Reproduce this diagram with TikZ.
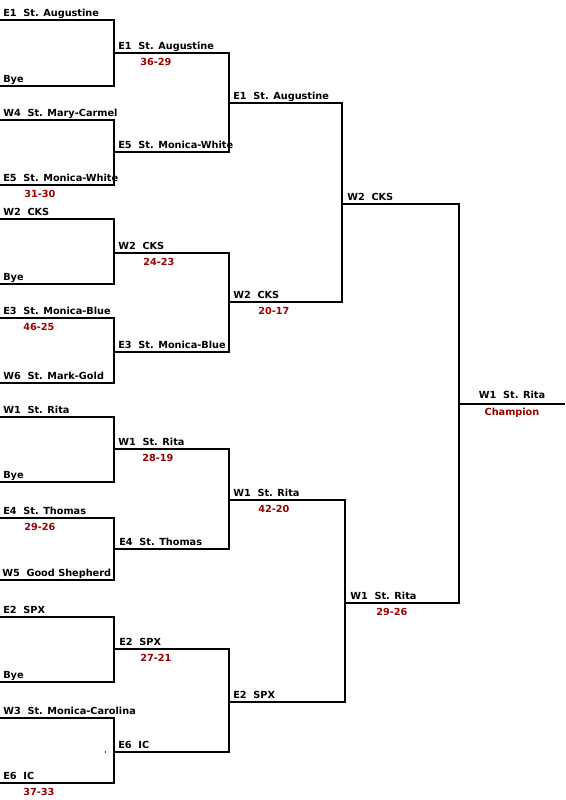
\documentclass[tikz,border=0pt]{standalone}
\usepackage{fontspec}
\newfontfamily\bracketfont{DejaVu Sans}
\definecolor{scorered}{RGB}{153,0,0}
\newcommand\seg[6]{%
  \coordinate (#1-l) at (#2,#4);
  \coordinate (#1-r) at (#3,#4);
  \node[team] (#1-t) at (#2+#6,#4-4) {#5};}
\begin{document}
\begin{tikzpicture}[x=0.75pt,y=-0.75pt,
  wire/.style={line width=1.5pt, line join=miter},
  team/.style={font=\bracketfont\bfseries\fontsize{7.3}{9}\selectfont, anchor=base west, inner sep=0pt},
  score/.style={team, text=scorered},
  finaltext/.style={team, anchor=base}]
\useasboundingbox (0,0) rectangle (565,800);
% round 1
\seg{a1}{0}{114}{20}{E1~~St. Augustine}{3}
\seg{a2}{0}{114}{86}{Bye}{3}
\seg{a3}{0}{114}{120}{W4~~St. Mary-Carmel}{3}
\seg{a4}{0}{114}{185}{E5~~St. Monica-White}{3}
\seg{a5}{0}{114}{219}{W2~~CKS}{3}
\seg{a6}{0}{114}{284}{Bye}{3}
\seg{a7}{0}{114}{318}{E3~~St. Monica-Blue}{3}
\seg{a8}{0}{114}{383}{W6~~St. Mark-Gold}{3}
\seg{a9}{0}{114}{417}{W1~~St. Rita}{3}
\seg{a10}{0}{114}{482}{Bye}{3}
\seg{a11}{0}{114}{518}{E4~~St. Thomas}{3}
\seg{a12}{0}{114}{580}{W5~~Good Shepherd}{2}
\seg{a13}{0}{114}{617}{E2~~SPX}{3}
\seg{a14}{0}{114}{682}{Bye}{3}
\seg{a15}{0}{114}{718}{W3~~St. Monica-Carolina}{3}
\seg{a16}{0}{114}{783}{E6~~IC}{3}
% round 2
\seg{b1}{114}{229}{53}{E1~~St. Augustine}{4}
\seg{b2}{114}{229}{152}{E5~~St. Monica-White}{4}
\seg{b3}{114}{229}{253}{W2~~CKS}{4}
\seg{b4}{114}{229}{352}{E3~~St. Monica-Blue}{4}
\seg{b5}{114}{229}{449}{W1~~St. Rita}{4}
\seg{b6}{114}{229}{549}{E4~~St. Thomas}{5}
\seg{b7}{114}{229}{649}{E2~~SPX}{5}
\seg{b8}{114}{229}{752}{E6~~IC}{4}
% round 3
\seg{c1}{229}{342}{103}{E1~~St. Augustine}{4}
\seg{c2}{229}{342}{302}{W2~~CKS}{4}
\seg{c3}{229}{345}{500}{W1~~St. Rita}{4}
\seg{c4}{229}{345}{702}{E2~~SPX}{4}
% round 4
\seg{d1}{342}{459}{204}{W2~~CKS}{5}
\seg{d2}{345}{459}{603}{W1~~St. Rita}{5}
% final
\coordinate (f-l) at (459,404);
\coordinate (f-r) at (565,404);
\node[finaltext] (f-t) at (512,398) {W1~~St. Rita};
\node[finaltext, text=scorered] (f-c) at (512,415) {Champion};
% bracket wires
\foreach \u/\v in {a1/a2,a3/a4,a5/a6,a7/a8,a9/a10,a11/a12,a13/a14,a15/a16,
                   b1/b2,b3/b4,b5/b6,b7/b8,c1/c2,c3/c4,d1/d2}
  \draw[wire] (\u-l) -- (\u-r) -- (\v-r) -- (\v-l);
\draw[wire] (f-l) -- (f-r);
% scores
\node[score] (s-a4) at (24,197) {31-30};
\node[score] (s-a7) at (23,330) {46-25};
\node[score] (s-a11) at (24,530) {29-26};
\node[score] (s-a16) at (23,795) {37-33};
\node[score] (s-b1) at (140,65) {36-29};
\node[score] (s-b3) at (143,265) {24-23};
\node[score] (s-b5) at (142,461) {28-19};
\node[score] (s-b7) at (140,661) {27-21};
\node[score] (s-c2) at (258,314) {20-17};
\node[score] (s-c3) at (258,512) {42-20};
\node[score] (s-d2) at (376,615) {29-26};
% stray mark
\fill[scorered] (104.5,751) rectangle (105.5,753);
\end{tikzpicture}
\end{document}
